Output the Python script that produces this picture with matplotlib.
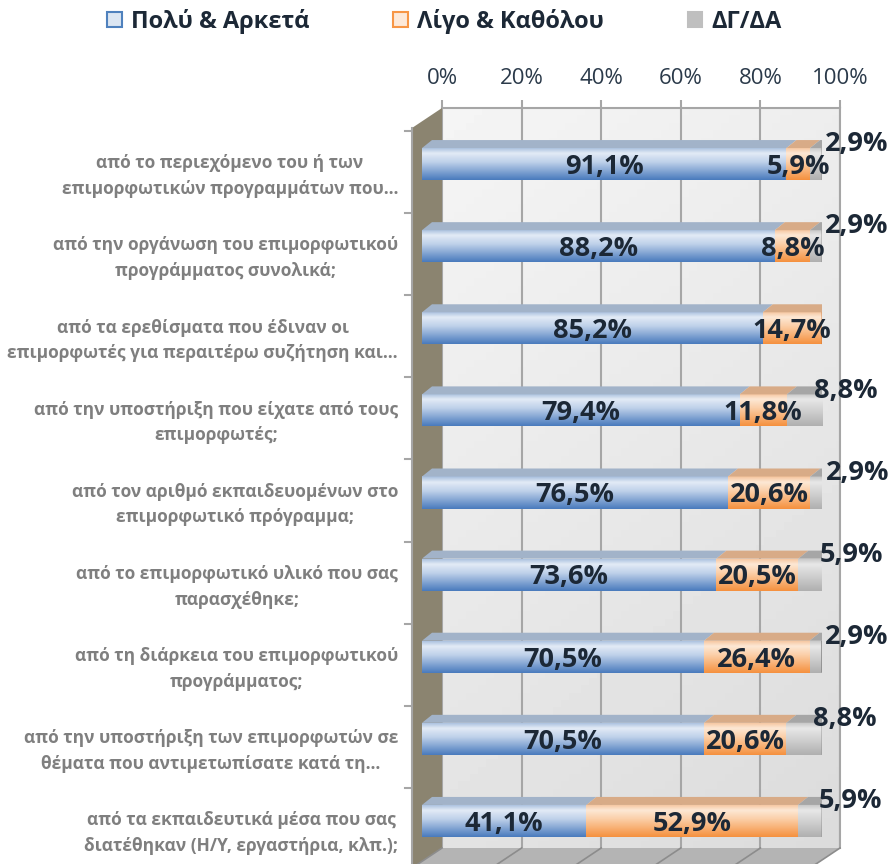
import numpy as np
import matplotlib
matplotlib.use("Agg")
import matplotlib.pyplot as plt
import matplotlib.transforms as mtransforms
from matplotlib.colors import LinearSegmentedColormap
from matplotlib.patches import Patch, Polygon

plt.rcParams['font.family'] = ['Open Sans', 'DejaVu Sans']

# Δεδομένα
categories = [
    "από το περιεχόμενο του ή των\nεπιμορφωτικών προγραμμάτων που…",
    "από την οργάνωση του επιμορφωτικού\nπρογράμματος συνολικά;",
    "από τα ερεθίσματα που έδιναν οι\nεπιμορφωτές για περαιτέρω συζήτηση και…",
    "από την υποστήριξη που είχατε από τους\nεπιμορφωτές;",
    "από τον αριθμό εκπαιδευομένων στο\nεπιμορφωτικό πρόγραμμα;",
    "από το επιμορφωτικό υλικό που σας\nπαρασχέθηκε;",
    "από τη διάρκεια του επιμορφωτικού\nπρογράμματος;",
    "από την υποστήριξη των επιμορφωτών σε\nθέματα που αντιμετωπίσατε κατά τη…",
    "από τα εκπαιδευτικά μέσα που σας\nδιατέθηκαν (Η/Υ, εργαστήρια, κλπ.);",
]
polu_arketa = [91.1, 88.2, 85.2, 79.4, 76.5, 73.6, 70.5, 70.5, 41.1]
ligo_katholou = [5.9, 8.8, 14.7, 11.8, 20.6, 20.5, 26.4, 20.6, 52.9]
dg_da = [2.9, 2.9, 0.0, 8.8, 2.9, 5.9, 2.9, 8.8, 5.9]
series_names = ["Πολύ & Αρκετά", "Λίγο & Καθόλου", "ΔΓ/ΔΑ"]
x_ticks = [0, 20, 40, 60, 80, 100]

# Στυλ
W, H = 892, 864
front_stops = [
    [(0, '#a3bbdc'), (0.18, '#e3ebf6'), (0.45, '#bfd1ea'), (1, '#4a7bbd')],
    [(0, '#f5c39a'), (0.18, '#fde8d5'), (0.45, '#fbcfa8'), (1, '#f5913f')],
    [(0, '#c4c4c4'), (0.18, '#e8e8e8'), (0.45, '#d6d6d6'), (1, '#b0b0b0')],
]
top_colors = ['#a2b3c9', '#d8ab87', '#a6a6a6']
end_colors = ['#5f7fae', '#c8763a', '#8a8a8a']
legend_face = ['#dce6f2', '#fde9d9', '#bfbfbf']
legend_edge = ['#4f81bd', '#f79646', '#bfbfbf']
txt_dark = '#1c2836'
grid_col = '#a6a6a6'

fig = plt.figure(figsize=(W / 100, H / 100), dpi=100)


def px_rect(x0, x1, y_top, y_bot):
    return [x0 / W, 1 - y_bot / H, (x1 - x0) / W, (y_bot - y_top) / H]


# Πίσω τοίχος
axw = fig.add_axes(px_rect(442, 840, 108, 848), zorder=0)
yy, xx = np.mgrid[0:1:100j, 0:1:100j]
wall = 0.96 - 0.07 * yy - 0.03 * xx
axw.imshow(wall, cmap='gray', vmin=0, vmax=1, extent=(0, 100, 0, 1),
           aspect='auto', origin='upper')
axw.set_xlim(0, 100)
axw.set_ylim(0, 1)
axw.set_xticks(x_ticks)
axw.set_xticklabels([f"{t}%" for t in x_ticks])
axw.set_yticks([])
axw.xaxis.tick_top()
axw.tick_params(axis='x', length=6, width=1.5, color=grid_col, pad=8,
                labelsize=16, labelcolor='#2b3a4a')
axw.grid(axis='x', color=grid_col, linewidth=1.5)
for s in ['left', 'bottom']:
    axw.spines[s].set_visible(False)
for s in ['top', 'right']:
    axw.spines[s].set_color(grid_col)
    axw.spines[s].set_linewidth(1.5)

# Πλαϊνός τοίχος και δάπεδο
bg = fig.add_axes([0, 0, 1, 1], zorder=1)
bg.set_xlim(0, W)
bg.set_ylim(H, 0)
bg.axis('off')
bg.add_patch(Polygon([(412, 128), (442, 108), (442, 848), (412, 868)],
                     closed=True, facecolor='#8b8470', edgecolor='none'))
bg.plot([412, 412], [128, 868], color=grid_col, lw=1.5)
bg.add_patch(Polygon([(412, 868), (442, 848), (840, 848), (810, 868)],
                     closed=True, facecolor='#b4b4b4', edgecolor='none'))
for k in range(6):
    gx = 442 + k * 398 / 5
    bg.plot([gx, gx - 30], [848, 868], color='#8c8c8c', lw=1.2)

# Ράβδοι
ax = fig.add_axes(px_rect(422, 822, 123, 862), zorder=2)
ax.patch.set_visible(False)
ax.axis('off')
n = len(categories)
y = np.arange(n)
bar_h = 32 / 82.1
dx = 2.5
dy = 8 / 82.1

series = [polu_arketa, ligo_katholou, dg_da]
left = np.zeros(n)
containers = []
for j, vals in enumerate(series):
    bars = ax.barh(y, vals, left=left, height=bar_h, color=front_stops[j][-1][1],
                   edgecolor='none', zorder=3)
    containers.append(bars)
    left = left + np.array(vals)

for j, bars in enumerate(containers):
    cmap = LinearSegmentedColormap.from_list(f"g{j}", front_stops[j])
    grad = np.linspace(0, 1, 64).reshape(-1, 1)
    for i, p in enumerate(bars.patches):
        w = p.get_width()
        if w <= 0:
            continue
        x0, y0, h = p.get_x(), p.get_y(), p.get_height()
        im = ax.imshow(grad, cmap=cmap, extent=(x0, x0 + w, y0 + h, y0),
                       origin='upper', aspect='auto', zorder=4)
        im.set_clip_path(p)
        # πάνω έδρα
        ax.fill([x0, x0 + w, x0 + w + dx, x0 + dx],
                [y0, y0, y0 - dy, y0 - dy], color=top_colors[j], lw=0, zorder=4)
        # δεξιά έδρα μόνο στο τελευταίο τμήμα
        later = sum(series[k][i] for k in range(j + 1, 3))
        if later <= 0:
            ax.fill([x0 + w, x0 + w + dx, x0 + w + dx, x0 + w],
                    [y0, y0 - dy, y0 + h - dy, y0 + h],
                    color=end_colors[j], lw=0, zorder=4)

ax.set_xlim(0, 100)
ax.set_ylim(n - 0.5, -0.5)


def fmt(v):
    return f"{v:.1f}".replace('.', ',') + '%'


# Ετικέτες τιμών
for j, bars in enumerate(containers):
    for i, p in enumerate(bars.patches):
        v = series[j][i]
        if v <= 0:
            continue
        cx = p.get_x() + p.get_width() / 2
        if j < 2:
            ax.text(cx, y[i] + 0.035, fmt(v), ha='center', va='center',
                    fontsize=19.5, fontweight='bold', color=txt_dark, zorder=6)
        else:
            ax.text(cx + 10.25, y[i] - 0.24, fmt(v), ha='center', va='center',
                    fontsize=19.5, fontweight='bold', color=txt_dark, zorder=6,
                    clip_on=False)

# Ετικέτες κατηγοριών και υποδιαιρέσεις
trans = mtransforms.blended_transform_factory(bg.transData, ax.transData)
for i, lab in enumerate(categories):
    ax.text(398, y[i] + dy + 0.05, lab, transform=trans, ha='right', va='center',
            multialignment='center', fontsize=12.5, fontweight='bold',
            color='#7f7f7f', linespacing=1.55, clip_on=False)
for k in range(n + 1):
    ax.plot([405, 412], [k - 0.5 + dy] * 2, transform=trans, color=grid_col,
            lw=1.5, clip_on=False)

# Υπόμνημα
handles = [Patch(facecolor=legend_face[j], edgecolor=legend_edge[j], linewidth=1.5)
           for j in range(3)]
leg = fig.legend(handles, series_names, loc='center',
                 bbox_to_anchor=(444.5 / W, 1 - 21 / H),
                 ncol=3, frameon=False, handlelength=0.6, handleheight=0.6,
                 handletextpad=0.4, columnspacing=3.55,
                 prop={'weight': 'bold', 'size': 17})
for t in leg.get_texts():
    t.set_color(txt_dark)

fig.savefig('out.png', dpi=100)
